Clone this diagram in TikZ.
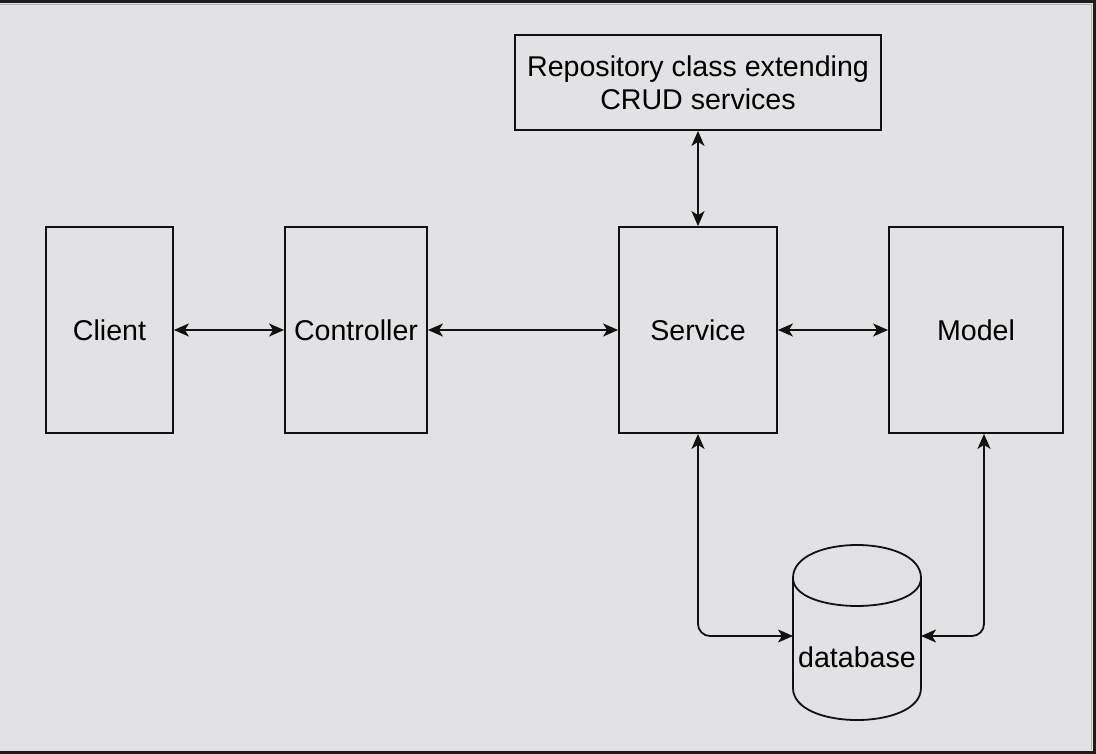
\documentclass[tikz,border=0pt]{standalone}
\usepackage{fontspec}
\setmainfont{Liberation Sans}
\usetikzlibrary{arrows.meta}
\definecolor{bgc}{HTML}{E2E2E4}
\definecolor{framec}{HTML}{1C1C1C}
\definecolor{linec}{HTML}{111111}
\tikzset{
  box/.style={draw=linec, line width=1.8pt, inner sep=0pt, font=\fontsize{28.6}{33}\selectfont, align=center},
  tip/.tip={Stealth[length=15pt,width=13pt,inset=4pt]},
  conn/.style={draw=linec, line width=1.8pt, tip-tip, rounded corners=12pt},
  cyl/.style={draw=linec, line width=1.8pt},
}
\begin{document}
\begin{tikzpicture}[x=1pt,y=-1pt]
\fill[bgc] (0,0) rectangle (1096,754);
\useasboundingbox (0,0) rectangle (1096,754);
% frame
\fill[framec] (0,0) rectangle (1096,3.5);
\fill[framec] (1092.5,0) rectangle (1096,754);
\fill[framec] (0,750.5) rectangle (1096,754);
\draw[gray!60, line width=0.8pt] (0,4.6) -- (1091.8,4.6) -- (1091.8,749.8);
% nodes
\node[box, minimum width=127pt, minimum height=206pt] (client) at (109.5,330) {Client};
\node[box, minimum width=142pt, minimum height=206pt] (ctrl) at (356,330) {Controller};
\node[box, minimum width=158pt, minimum height=206pt] (serv) at (698,330) {Service};
\node[box, minimum width=174pt, minimum height=206pt] (model) at (976,330) {Model};
\node[box, minimum width=366pt, minimum height=95pt] (repo) at (698,82.5) {Repository class extending\\CRUD services};
% database cylinder
\node[inner sep=0pt, minimum width=128pt, minimum height=175pt] (db) at (857,632.5) {};
\draw[cyl] (793,578) -- (793,688) .. controls (793,730.7) and (921,730.7) .. (921,688)
  -- (921,578) .. controls (921,534) and (793,534) .. (793,578) -- cycle;
\draw[cyl] (793,578) .. controls (793,615.3) and (921,615.3) .. (921,578);
\node[font=\fontsize{28.6}{33}\selectfont] (dbl) at (857,657) {database};
\coordinate (dbL) at (793,636);
\coordinate (dbR) at (921,636);
% connectors
\draw[conn] (client.east) -- (ctrl.west);
\draw[conn] (ctrl.east) -- (serv.west);
\draw[conn] (serv.east) -- (model.west);
\draw[conn] (repo.south) -- (serv.north);
\draw[conn] (serv.south) |- (dbL);
\draw[conn] (model.south -| 984,0) |- (dbR);
\end{tikzpicture}
\end{document}
